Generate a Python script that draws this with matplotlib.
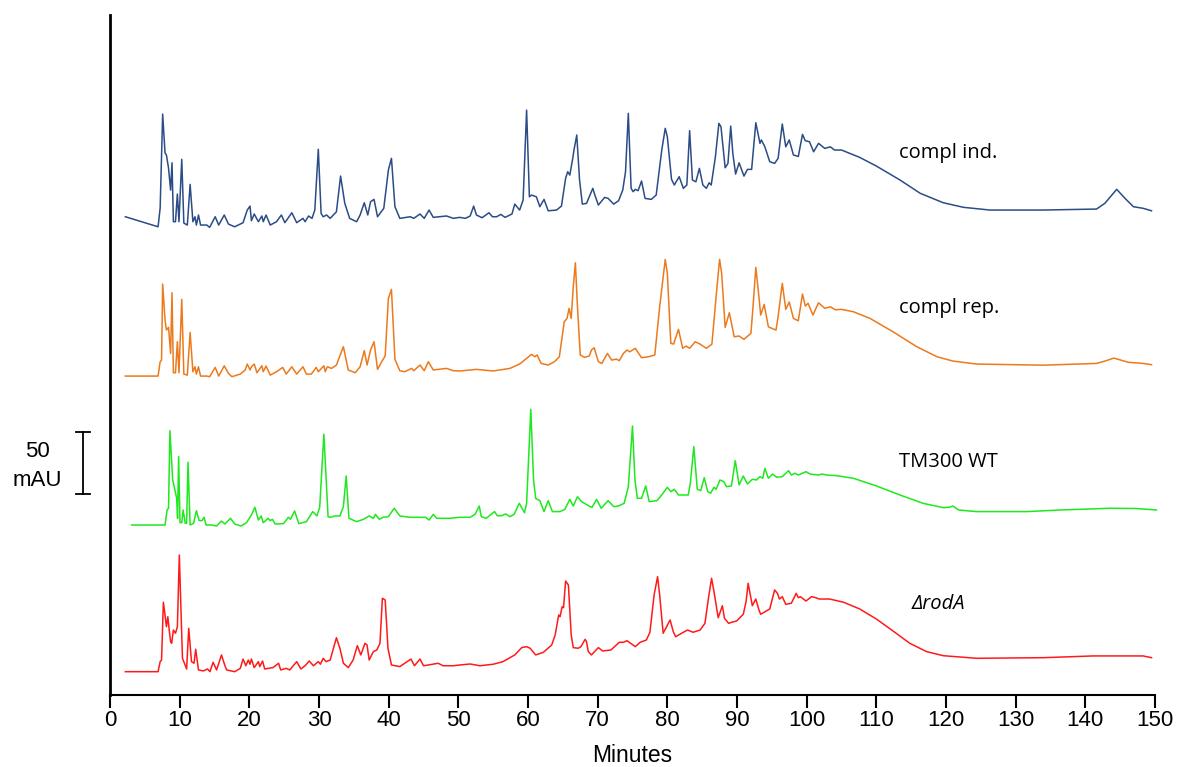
import matplotlib
matplotlib.use("Agg")
from matplotlib import pyplot as plt

'''
Stacked HPLC chromatograms (absorbance vs retention time) for four strains,
with a 50 mAU scale bar on the left.
'''

# ---- data: retention time (min) and signal (mAU above each trace baseline)
blue_t = [2.2, 6.9, 7.2, 7.56, 7.9, 8.1, 8.4, 8.7, 8.9, 9.1, 9.4, 9.67, 9.9, 10.3, 10.6, 11.1, 11.5, 11.9,
          12.2, 12.4, 12.7, 13.0, 13.9, 14.3, 15.1, 15.6, 16.4, 17.0, 17.9, 19.1, 19.7, 20.1, 20.3, 20.7,
          21.3, 21.8, 22.0, 22.4, 23.0, 23.9, 24.6, 25.1, 26.1, 26.8, 27.7, 28.0, 28.5, 29.0, 29.4, 29.9,
          30.3, 30.6, 31.1, 31.6, 32.5, 33.1, 33.7, 34.4, 35.4, 35.9, 36.5, 37.0, 37.4, 37.9, 38.4, 39.3,
          39.96, 40.4, 40.9, 41.6, 43.1, 43.6, 44.5, 45.1, 45.8, 46.4, 48.3, 49.3, 50.2, 51.0, 51.7, 52.2,
          52.6, 53.4, 54.4, 54.9, 55.5, 56.1, 56.7, 57.7, 58.1, 58.8, 59.3, 59.8, 60.2, 60.5, 61.2, 61.7,
          62.3, 62.9, 64.1, 64.8, 65.4, 65.7, 66.0, 66.4, 66.6, 67.0, 67.4, 67.8, 68.4, 69.3, 69.6, 70.1,
          71.0, 71.5, 72.3, 73.0, 73.6, 74.0, 74.4, 74.8, 75.1, 75.4, 75.8, 76.3, 76.8, 77.7, 78.4, 79.2,
          79.7, 80.0, 80.6, 81.0, 81.7, 82.3, 82.8, 83.2, 83.6, 84.1, 84.6, 85.1, 85.6, 86.0, 86.3, 86.9,
          87.4, 87.7, 88.3, 88.7, 89.1, 89.4, 89.8, 90.3, 91.0, 91.5, 92.1, 92.7, 93.3, 93.5, 94.0, 94.7,
          95.4, 95.9, 96.5, 97.0, 97.5, 98.1, 98.8, 99.4, 99.8, 100.4, 101.0, 101.7, 102.6, 103.4, 104.0,
          105.0, 107.6, 110.0, 113.4, 116.3, 119.6, 122.5, 126.3, 133.9, 141.6, 142.8, 144.5, 145.7, 146.9,
          148.3, 149.5]
blue_v = [-5.4, -13.5, 1.6, 77.4, 46.0, 44.4, 33.9, 16.1, 38.1, -9.4, -9.4, 12.9, -9.4, 40.9, -10.5, -12.1, 20.7, -9.4,
          -5.4, -12.1, -4.0, -12.1, -12.1, -14.0, -5.4, -12.1, -4.0, -11.3, -13.5, -10.2, 0.0, 3.2, -8.6, -3.2,
          -9.4, -4.8, -9.4, -4.0, -12.1, -9.4, -4.0, -10.2, -2.2, -10.2, -6.7, -9.4, -4.8, -6.7, 0.0, 49.0,
          -2.7, -5.4, -4.0, -6.7, -1.4, 27.4, 5.4, -6.7, -9.4, -4.0, 5.9, -4.0, 6.7, 8.6, -5.4, 1.4,
          32.3, 41.7, 2.7, -6.7, -5.4, -6.7, -3.2, -6.7, 0.0, -5.9, -4.8, -6.7, -5.9, -6.7, -4.8, 3.2,
          -4.0, -6.2, -2.2, -5.4, -5.4, -3.5, -5.9, -3.2, 4.8, 0.0, 8.1, 80.6, 10.7, 12.1, 10.7, 2.7,
          8.6, -0.6, 0.0, 3.2, 25.6, 30.9, 28.2, 40.9, 48.4, 60.5, 24.2, 4.8, 5.4, 17.5, 12.1, 4.0,
          10.2, 9.4, 4.8, 7.5, 16.1, 30.9, 78.0, 17.5, 14.8, 16.7, 15.6, 23.4, 9.4, 8.6, 12.1, 48.4,
          65.9, 59.1, 24.8, 20.2, 26.9, 17.5, 20.2, 64.0, 24.2, 22.8, 33.6, 20.2, 17.5, 22.0, 20.2, 43.0,
          69.9, 67.2, 34.1, 37.6, 67.7, 45.7, 29.0, 38.1, 27.4, 32.8, 32.8, 70.4, 53.8, 56.5, 51.0, 39.0,
          37.6, 41.7, 69.4, 51.0, 56.5, 44.4, 43.2, 61.0, 55.9, 55.1, 47.0, 53.8, 49.7, 51.0, 48.4,
          48.4, 42.5, 35.5, 24.2, 13.5, 5.9, 2.2, 0.0, 0.0, 0.8, 5.4, 16.7, 9.4, 2.7,
          1.4, -0.6]

orange_t = [2.2, 6.9, 7.2, 7.4, 7.56, 7.9, 8.1, 8.4, 8.7, 8.9, 9.1, 9.4, 9.67, 9.9, 10.3, 10.6, 11.1, 11.5,
            11.9, 12.2, 12.4, 12.7, 13.0, 13.9, 14.3, 15.1, 15.6, 16.4, 17.0, 17.5, 18.7, 19.4, 19.7, 20.1,
            20.3, 20.7, 21.1, 21.8, 22.0, 22.4, 23.0, 23.9, 24.8, 25.3, 26.1, 26.8, 27.7, 28.2, 28.9, 29.6,
            29.9, 30.7, 30.9, 31.2, 31.8, 32.5, 33.5, 34.2, 35.2, 35.9, 36.5, 36.9, 37.4, 37.9, 38.4, 39.0,
            39.5, 39.96, 40.4, 40.9, 41.6, 42.3, 43.3, 43.6, 44.5, 45.1, 45.7, 46.4, 48.3, 49.3, 50.2, 52.6,
            55.0, 57.4, 58.8, 60.5, 61.0, 61.3, 61.9, 62.9, 63.8, 64.5, 65.2, 65.6, 65.9, 66.2, 66.5, 66.8,
            67.1, 67.5, 68.1, 68.8, 69.1, 69.5, 70.1, 70.6, 71.4, 72.0, 72.7, 73.1, 73.7, 74.2, 74.6, 75.4,
            76.3, 77.3, 78.2, 78.9, 79.7, 80.0, 80.5, 80.9, 81.6, 82.2, 82.7, 83.2, 84.0, 84.7, 85.6, 86.4,
            87.0, 87.5, 87.8, 88.3, 88.9, 89.6, 90.3, 91.0, 92.0, 92.3, 92.7, 93.05, 93.4, 93.9, 94.5, 95.0,
            95.6, 95.9, 96.5, 97.0, 97.5, 98.1, 98.8, 99.4, 99.8, 100.2, 100.9, 101.7, 102.6, 103.4, 104.1,
            105.0, 106.7, 109.1, 112.4, 115.8, 118.7, 121.0, 124.4, 134.0, 141.6, 142.8, 144.1, 146.2, 148.3,
            149.5]
orange_v = [-9.7, -9.7, 1.9, 3.2, 64.5, 35.5, 27.4, 29.6, 8.6, 57.5, -7.0, -7.0, 18.0, -7.0, 52.2, -8.1, -8.9, 25.5,
            -6.2, -2.2, -8.1, -2.2, -9.7, -9.7, -10.2, -2.7, -9.7, -1.4, -7.5, -10.2, -8.1, -4.8, 0.0, -4.8,
            -2.2, 0.0, -7.0, -1.4, -6.2, -1.6, -8.9, -6.2, -2.7, -8.1, -2.2, -8.1, -2.2, -8.1, -8.1, -2.7,
            -6.2, -1.4, -6.2, -2.2, -3.5, -0.8, 14.0, -4.8, -7.0, -2.2, 10.8, -0.8, 11.3, 18.0, -4.3, 1.9,
            6.5, 53.0, 60.2, 3.8, -5.4, -6.2, -3.5, -5.4, -0.8, -5.4, 1.9, -4.8, -3.5, -5.4, -5.6, -4.3,
            -5.6, -3.5, 0.0, 7.8, 5.9, 7.3, 0.5, -0.8, 1.9, 5.9, 34.1, 36.8, 44.9, 36.8, 62.3, 81.7,
            46.2, 7.3, 5.4, 6.5, 11.3, 13.1, 1.9, 0.5, 8.6, 3.2, 4.0, 2.7, 8.6, 11.3, 9.9, 12.7,
            5.1, 5.9, 7.3, 46.2, 84.4, 73.1, 16.7, 16.1, 28.0, 12.7, 14.5, 12.7, 18.0, 16.1, 12.7, 16.1,
            54.3, 84.4, 73.1, 29.6, 41.4, 22.0, 22.6, 19.9, 24.8, 46.2, 78.0, 59.7, 39.5, 48.1, 30.1, 28.8,
            27.4, 38.2, 65.1, 44.1, 50.0, 36.8, 34.9, 56.5, 46.8, 49.0, 39.5, 49.4, 44.9, 46.2, 43.8,
            44.1, 42.2, 36.8, 26.0, 14.0, 5.9, 2.4, 0.0, -0.9, 0.5, 2.4, 4.8, 1.4, 0.5,
            -0.5]

green_t = [3.1, 7.9, 8.2, 8.4, 8.6, 9.0, 9.2, 9.57, 9.7, 9.85, 10.05, 10.3, 10.5, 10.8, 11.0, 11.2, 11.5, 12.0,
           12.4, 12.8, 13.2, 13.5, 13.8, 14.6, 15.3, 16.0, 16.5, 17.3, 17.9, 18.8, 19.6, 20.3, 20.8, 21.3,
           21.7, 22.0, 22.7, 23.0, 23.3, 23.7, 24.9, 25.6, 25.9, 26.5, 27.1, 28.2, 29.1, 29.7, 30.1, 30.7,
           31.3, 31.6, 32.3, 33.0, 33.5, 33.9, 34.3, 35.4, 36.4, 37.2, 37.8, 38.1, 38.65, 39.2, 39.95, 40.8,
           41.6, 43.1, 45.3, 45.8, 46.4, 46.9, 47.8, 48.8, 50.1, 51.7, 52.4, 53.0, 53.3, 54.0, 55.2, 55.6,
           56.2, 56.8, 57.4, 58.0, 58.75, 59.5, 59.8, 60.4, 60.8, 61.1, 61.7, 62.3, 62.9, 63.5, 64.6, 65.3,
           66.0, 66.5, 67.1, 67.7, 68.9, 69.2, 69.85, 70.5, 71.5, 72.3, 73.0, 73.8, 74.4, 75.0, 75.35, 75.7,
           76.3, 76.9, 77.4, 78.5, 79.2, 80.0, 80.5, 81.0, 81.6, 83.0, 83.3, 83.8, 84.3, 84.8, 85.3, 85.8,
           86.2, 86.7, 87.0, 87.55, 88.1, 88.5, 89.2, 89.75, 90.3, 90.9, 91.5, 92.2, 92.8, 93.3, 93.7, 94.0,
           94.5, 95.1, 95.7, 96.5, 97.4, 97.8, 98.3, 98.8, 99.9, 100.5, 101.7, 102.2, 102.9, 104.3, 106.7,
           110.0, 113.4, 116.7, 119.6, 120.5, 121.0, 121.8, 124.4, 131.6, 136.4, 143.5, 147.3, 150.2]
green_v = [-11.3, -11.3, 0.8, 2.2, 64.8, 25.0, 20.2, 10.2, -5.9, 43.8, -9.4, -9.4, 0.8, -9.9, -9.9, 39.3, -11.3, -9.9,
           0.2, -7.8, -7.8, -5.1, -11.3, -11.3, -12.1, -8.1, -10.5, -5.9, -10.5, -12.1, -9.4, -3.2, 3.0, -7.3,
           -4.0, -9.4, -5.9, -7.8, -6.7, -10.5, -10.2, -5.1, -6.7, 0.0, -10.2, -8.6, -0.5, -4.0, 3.0, 61.9,
           -4.6, -5.1, -4.0, -4.0, 3.5, 28.2, -5.9, -8.6, -6.7, -4.0, -5.9, -2.7, -6.7, -5.1, -4.6, 2.2,
           -4.0, -5.1, -5.1, -7.3, -2.7, -5.9, -5.9, -5.9, -5.1, -5.1, -2.7, 4.0, -4.6, -5.9, -0.5, -3.8,
           -3.8, -2.4, -4.6, -2.7, 6.2, -1.4, 6.2, 82.0, 25.0, 10.2, 8.3, -0.5, 8.3, -0.5, -0.5, 1.4,
           9.4, 4.0, 11.5, 7.5, 3.5, 3.0, 9.4, 2.2, 8.3, 3.5, 4.0, 6.2, 19.6, 68.5, 25.0, 10.2,
           10.2, 20.2, 7.5, 8.3, 12.9, 19.1, 15.6, 17.5, 12.9, 12.9, 22.3, 51.9, 17.5, 16.4, 26.9, 15.6,
           14.3, 19.1, 17.5, 25.0, 23.7, 19.6, 20.2, 40.6, 21.0, 28.2, 21.8, 25.6, 25.0, 27.7, 26.4, 34.4,
           26.4, 29.8, 27.2, 27.7, 32.5, 29.0, 30.4, 29.0, 31.7, 29.8, 29.0, 29.8, 29.0, 28.5, 26.4,
           20.2, 12.9, 6.2, 2.7, 3.0, 4.0, 0.8, -0.5, -0.5, 0.8, 2.2, 2.0, 0.8]

red_t = [2.2, 6.9, 7.2, 7.4, 7.66, 7.9, 8.1, 8.3, 8.5, 8.7, 8.85, 9.1, 9.4, 9.67, 9.95, 10.2, 10.4, 11.0,
         11.3, 11.7, 12.06, 12.3, 12.7, 13.4, 14.0, 14.35, 14.8, 15.3, 16.0, 16.5, 16.75, 17.9, 18.7, 19.1,
         19.5, 19.85, 20.1, 20.3, 20.7, 21.3, 21.5, 21.9, 22.2, 23.4, 24.2, 24.5, 25.3, 25.8, 26.8, 27.4,
         28.0, 28.6, 29.2, 29.9, 30.2, 30.6, 31.0, 31.6, 32.0, 32.5, 33.0, 33.5, 34.2, 34.9, 35.5, 36.0,
         36.6, 36.9, 37.2, 37.8, 38.3, 38.75, 39.1, 39.5, 39.9, 40.4, 41.6, 42.3, 43.2, 43.7, 44.5, 45.0,
         45.7, 47.1, 47.8, 49.3, 50.2, 51.7, 53.1, 55.0, 56.4, 58.1, 59.1, 59.8, 60.3, 61.1, 62.2, 63.4,
         63.9, 64.4, 64.6, 64.9, 65.1, 65.4, 65.8, 66.2, 66.5, 67.2, 67.6, 68.2, 68.4, 68.65, 69.1, 70.1,
         70.7, 71.9, 73.1, 73.7, 74.2, 75.4, 76.1, 77.0, 77.5, 78.1, 78.6, 78.9, 79.4, 79.9, 80.4, 80.85,
         81.2, 82.05, 82.9, 83.7, 84.7, 85.4, 85.9, 86.35, 86.7, 87.3, 87.9, 88.2, 88.8, 89.2, 89.95, 90.9,
         91.3, 91.6, 91.95, 92.2, 92.7, 93.15, 93.4, 94.2, 94.7, 95.4, 95.8, 96.1, 96.5, 97.0, 97.8, 98.5,
         98.8, 99.1, 99.9, 100.7, 101.3, 101.8, 102.2, 103.3, 105.3, 107.6, 110.0, 112.4, 114.8, 117.2,
         119.6, 124.4, 134.0, 141.1, 148.3, 149.5]
red_v = [-10.8, -10.8, -2.7, -1.4, 45.2, 34.9, 25.5, 33.5, 22.8, 13.4, 12.1, 22.8, 20.2, 25.5, 83.3, 37.6, 0.0, -8.6,
         24.2, -2.7, -4.0, 7.3, -9.4, -10.2, -8.6, -10.8, -3.2, -9.4, 2.7, -6.0, -9.4, -10.8, -8.1, -0.6,
         -6.0, -1.4, -4.8, -0.6, -7.5, -2.7, -6.7, -2.2, -8.6, -7.5, -4.0, -9.4, -8.1, -9.4, -2.7, -8.6,
         -6.0, -2.2, -6.0, -2.7, -4.8, 0.0, -2.7, -1.4, 6.7, 16.6, 8.1, -4.0, -7.5, -1.4, 10.2, 2.7,
         12.1, 10.7, -1.4, 5.4, 6.7, 12.1, 48.4, 47.0, 8.1, -5.4, -6.7, -4.0, -0.6, -6.0, -0.6, -6.0,
         -5.4, -4.0, -6.0, -6.0, -5.4, -4.6, -6.0, -4.8, -2.7, 2.7, 8.6, 9.4, 8.1, 2.7, 4.8, 10.7,
         18.8, 34.9, 33.5, 41.6, 40.8, 62.3, 59.1, 18.8, 8.6, 8.1, 9.4, 15.3, 13.4, 5.4, 2.7, 8.6,
         5.9, 6.7, 12.9, 12.9, 14.2, 9.4, 12.9, 14.8, 21.0, 51.0, 65.8, 51.0, 20.2, 25.5, 30.9, 21.5,
         17.4, 20.2, 22.8, 21.0, 22.8, 28.2, 48.4, 64.5, 53.7, 32.7, 42.4, 32.3, 28.2, 29.0, 30.1, 35.5,
         45.6, 60.5, 49.7, 42.4, 47.8, 39.0, 35.5, 38.1, 39.8, 55.1, 52.4, 47.8, 49.7, 43.5, 44.4, 52.4,
         48.9, 49.7, 46.2, 49.7, 48.9, 47.8, 47.8, 47.8, 45.2, 39.8, 31.7, 22.0, 12.1, 5.4,
         2.1, 0.0, 0.5, 1.9, 1.9, 0.5]

names = ['compl ind.', 'compl rep.', 'TM300 WT', 'ΔrodA']
colors = ['#2b4c86', '#ec7a1c', '#1ee81e', '#ff1a1a']
offsets = [391.1, 266.9, 148.4, 29.6]
label_y = [437.1, 312.1, 188.1, 73.1]

traces = [(blue_t, blue_v), (orange_t, orange_v), (green_t, green_v), (red_t, red_v)]

fig = plt.figure(figsize=(11.9, 7.67), dpi=100)
ax = fig.add_axes([110 / 1190, 72 / 767, 1045 / 1190, 680 / 767])

for (t, v), c, off, name, ly in zip(traces, colors, offsets, names, label_y):
    ax.plot(t, [val + off for val in v], color=c, lw=1.1, clip_on=False)
    style = 'italic' if name.startswith('Δ') else 'normal'
    lx = 115.1 if style == 'italic' else 113.25
    ax.text(lx, ly, name, fontsize=14.5, family=['Open Sans', 'DejaVu Sans'],
            style=style, ha='left', va='center')

# scale bar: 50 mAU
ax.plot([-3.88, -3.88], [162.1, 212.1], color='black', lw=1.3, clip_on=False)
ax.plot([-4.9, -2.9], [212.1, 212.1], color='black', lw=1.3, clip_on=False)
ax.plot([-4.9, -2.9], [162.1, 162.1], color='black', lw=1.3, clip_on=False)
fig.text(37 / 1190, 1 - 452 / 767, '50', fontsize=16, family='Liberation Sans', ha='center', va='center')
fig.text(37 / 1190, 1 - 481 / 767, 'mAU', fontsize=16, family='Liberation Sans', ha='center', va='center')

ax.set_xlim(0, 150)
ax.set_ylim(0, 548.4)
ax.set_xticks(range(0, 151, 10))
ax.set_yticks([])
for s in ['top', 'right']:
    ax.spines[s].set_visible(False)
ax.spines['left'].set_linewidth(2)
ax.spines['bottom'].set_linewidth(1.5)
ax.tick_params(axis='x', direction='out', length=9, width=1.5, labelsize=16, pad=2)
for lab in ax.get_xticklabels():
    lab.set_family('Liberation Sans')
ax.set_xlabel('Minutes', fontsize=16.5, family='Liberation Sans', labelpad=9)

fig.savefig('out.png', dpi=100)
